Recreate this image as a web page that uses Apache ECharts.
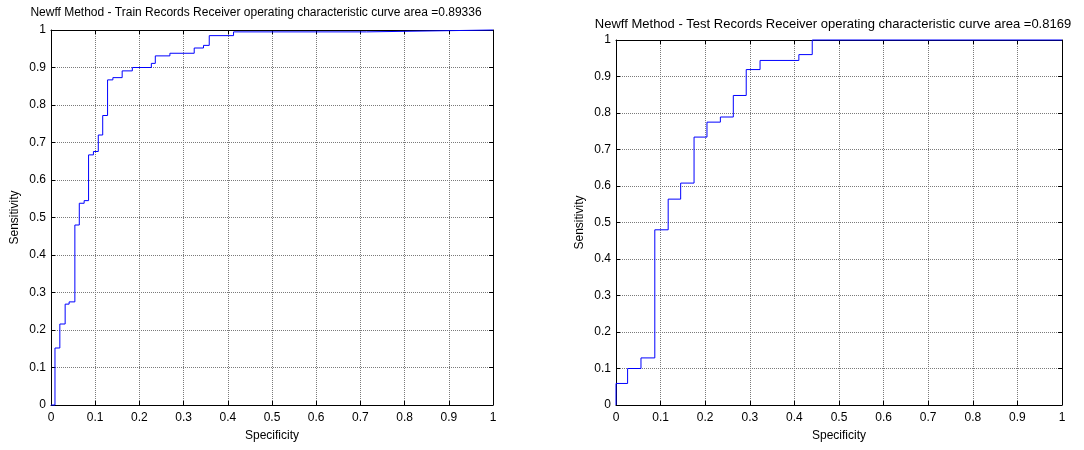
<!DOCTYPE html>
<html>
<head>
<meta charset="utf-8">
<script src="https://cdn.jsdelivr.net/npm/echarts@6/dist/echarts.min.js"></script>
<style>
  html, body { margin: 0; padding: 0; background: #fff; }
  #chart { width: 1084px; height: 450px; }
</style>
</head>
<body>
<div id="chart"></div>
<script>
// ROC curve corner points: [1 - specificity axis value, sensitivity]
const trainTitle = 'Newff Method - Train Records Receiver operating characteristic curve area =0.89336';
const testTitle = 'Newff Method - Test Records Receiver operating characteristic curve area =0.8169';

const trainX = [0, 0.009, 0.020, 0.032, 0.041, 0.054, 0.064, 0.075, 0.085, 0.096, 0.107, 0.117, 0.128, 0.140, 0.161, 0.184, 0.227, 0.236, 0.269, 0.324, 0.345, 0.358, 0.413, 0.714, 1];
const trainY = [0, 0.152, 0.216, 0.269, 0.275, 0.480, 0.538, 0.545, 0.667, 0.676, 0.720, 0.772, 0.867, 0.873, 0.891, 0.900, 0.911, 0.931, 0.938, 0.952, 0.959, 0.985, 0.995, 1.000, 1];

const testX = [0, 0, 0.026, 0.056, 0.087, 0.117, 0.145, 0.175, 0.204, 0.234, 0.263, 0.292, 0.323, 0.410, 0.440, 1];
const testY = [0, 0.059, 0.100, 0.129, 0.480, 0.564, 0.608, 0.734, 0.775, 0.789, 0.848, 0.919, 0.944, 0.960, 1.000, 1];

const tickLabels = ['0', '0.1', '0.2', '0.3', '0.4', '0.5', '0.6', '0.7', '0.8', '0.9', '1'];

const FONT = '"Liberation Sans", Arial, sans-serif';

const zip = (xs, ys) => xs.map((x, i) => [x, ys[i]]);
const fmt = v => tickLabels[Math.round(v * 10)];

function mainAxis(gridIndex, name, isX) {
  return {
    type: 'value', gridIndex, min: 0, max: 1, interval: 0.1,
    position: isX ? 'bottom' : 'left',
    name, nameLocation: 'middle',
    nameGap: isX ? 25 : 30,
    nameTextStyle: { fontFamily: FONT, fontSize: 12, color: '#000' },
    axisLine: { show: true, onZero: false, lineStyle: { color: '#000', width: 1 } },
    axisTick: { show: true, inside: true, length: 4, lineStyle: { color: '#000' } },
    axisLabel: { formatter: fmt, fontFamily: FONT, fontSize: 12, color: '#000', margin: isX ? 7 : 5 },
    splitLine: { show: true, lineStyle: { color: '#7a7a7a', type: [1, 1], width: 1 } }
  };
}
function boxAxis(gridIndex, isX) {
  return {
    type: 'value', gridIndex, min: 0, max: 1, interval: 0.1,
    position: isX ? 'top' : 'right',
    axisLine: { show: true, onZero: false, lineStyle: { color: '#000', width: 1 } },
    axisTick: { show: true, inside: true, length: 4, lineStyle: { color: '#000' } },
    axisLabel: { show: false },
    splitLine: { show: false }
  };
}

const chart = echarts.init(document.getElementById('chart'), null, { renderer: 'canvas' });
chart.setOption({
  animation: false,
  backgroundColor: '#fff',
  grid: [
    { left: 51, top: 30, width: 442, height: 375 },
    { left: 616, top: 40, width: 446, height: 365 }
  ],
  xAxis: [mainAxis(0, 'Specificity', true), boxAxis(0, true), mainAxis(1, 'Specificity', true), boxAxis(1, true)],
  yAxis: [mainAxis(0, 'Sensitivity', false), boxAxis(0, false), mainAxis(1, 'Sensitivity', false), boxAxis(1, false)],
  graphic: [
    { type: 'text', x: 256, y: 13, style: { text: trainTitle, font: '12px ' + FONT, fill: '#000', textAlign: 'center', textVerticalAlign: 'middle' } },
    { type: 'text', x: 833, y: 24, style: { text: testTitle, font: '13px ' + FONT, fill: '#000', textAlign: 'center', textVerticalAlign: 'middle' } }
  ],
  series: [
    { type: 'line', xAxisIndex: 0, yAxisIndex: 0, step: 'end', data: zip(trainX, trainY), showSymbol: false, lineStyle: { color: '#0000ff', width: 1 }, clip: false, z: 10 },
    { type: 'line', xAxisIndex: 2, yAxisIndex: 2, step: 'end', data: zip(testX, testY), showSymbol: false, lineStyle: { color: '#0000ff', width: 1 }, clip: false, z: 10 }
  ]
});
</script>
</body>
</html>
